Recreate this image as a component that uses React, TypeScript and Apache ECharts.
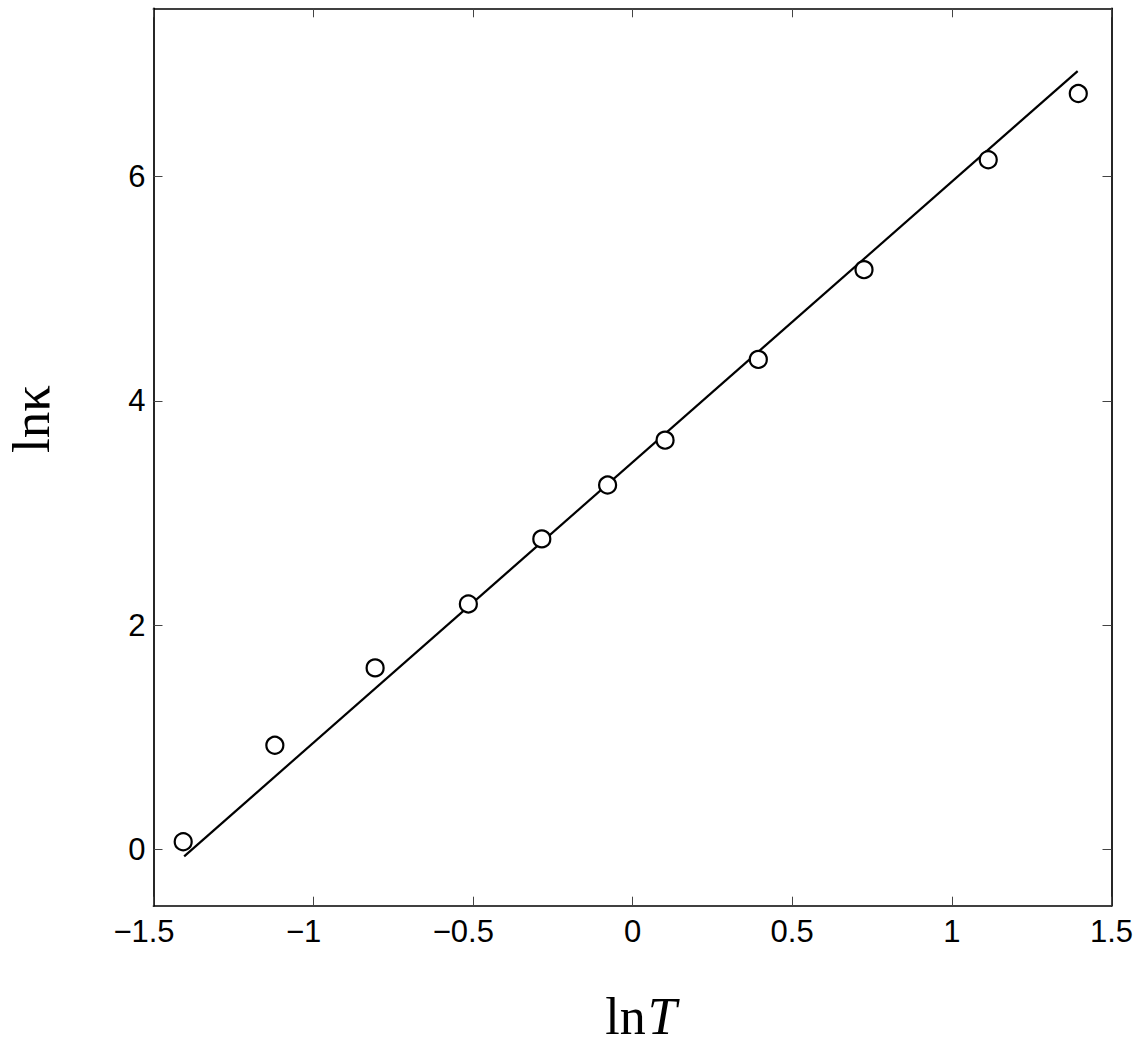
import React, { useEffect, useRef } from "react";
import * as echarts from "echarts";

const lnT = [-1.407, -1.12, -0.806, -0.514, -0.284, -0.078, 0.102, 0.394, 0.725, 1.114, 1.396];
const lnKappa = [0.07, 0.93, 1.62, 2.19, 2.77, 3.25, 3.65, 4.37, 5.17, 6.15, 6.74];
const fitX = [-1.404, 1.394];
const fitY = [-0.06, 6.94];
const xTicks = [-1.5, -1, -0.5, 0, 0.5, 1, 1.5];
const yTicks = [0, 2, 4, 6];

const fmtX = (v: number) => (v < 0 ? "{n|\u2212" + String(-v) + "}" : "{p|" + String(v) + "}");

export default function App() {
  const ref = useRef<HTMLDivElement>(null);
  useEffect(() => {
    const chart = echarts.init(ref.current!, null, { renderer: "svg" });
    const tickStyle = { lineStyle: { color: "#444", width: 1 } };
    const frame = { lineStyle: { color: "#000", width: 1.7 } };
    const sans = "Liberation Sans, Arial, sans-serif";
    const serif = "Liberation Serif, Times New Roman, serif";
    const labelFont = { fontFamily: sans, fontSize: 31, color: "#000" };
    chart.setOption({
      animation: false,
      backgroundColor: "#fff",
      grid: { left: 153.5, right: 31.5, top: 8.3, bottom: 140.3, show: false, outerBoundsMode: "none", containLabel: false },
      xAxis: [
        {
          type: "value",
          min: -1.5,
          max: 1.5,
          interval: 0.5,
          position: "bottom",
          axisLine: { show: true, onZero: false, ...frame },
          axisTick: { show: true, inside: true, length: 9, ...tickStyle },
          splitLine: { show: false },
          axisLabel: {
            margin: 10,
            formatter: (v: number) => (xTicks.includes(v) ? fmtX(v) : ""),
            rich: {
              n: { ...labelFont, padding: [0, 19, 0, 0] },
              p: { ...labelFont },
            },
          },
        },
        {
          type: "value",
          min: -1.5,
          max: 1.5,
          interval: 0.5,
          position: "top",
          axisLine: { show: true, onZero: false, ...frame },
          axisTick: { show: true, inside: true, length: 9, ...tickStyle },
          splitLine: { show: false },
          axisLabel: { show: false },
        },
      ],
      yAxis: [
        {
          type: "value",
          min: -0.5,
          max: 7.5,
          position: "left",
          axisLine: { show: true, onZero: false, ...frame },
          axisTick: { show: true, inside: true, length: 9, customValues: yTicks, ...tickStyle },
          splitLine: { show: false },
          axisLabel: {
            ...labelFont,
            margin: 8,
            customValues: yTicks,
            formatter: (v: number) => String(v),
          },
        },
        {
          type: "value",
          min: -0.5,
          max: 7.5,
          position: "right",
          axisLine: { show: true, onZero: false, ...frame },
          axisTick: { show: true, inside: true, length: 9, customValues: yTicks, ...tickStyle },
          splitLine: { show: false },
          axisLabel: { show: false },
        },
      ],
      graphic: [
        {
          type: "text",
          x: 641,
          y: 1016.5,
          style: {
            text: "{a|ln}{b|T}",
            align: "center",
            verticalAlign: "middle",
            rich: {
              a: { fontFamily: serif, fontSize: 52, lineHeight: 44, fill: "#000" },
              b: { fontFamily: serif, fontSize: 52, lineHeight: 44, fontStyle: "italic", fill: "#000", padding: [0, 0, 0, 2] },
            },
          },
        },
        {
          type: "text",
          x: 31,
          y: 419,
          rotation: Math.PI / 2,
          style: {
            text: "ln\u03BA",
            align: "center",
            verticalAlign: "middle",
            fontFamily: serif,
            fontSize: 53,
            lineHeight: 44,
            fill: "#000",
          },
        },
      ],
      series: [
        {
          type: "line",
          data: fitX.map((x, i) => [x, fitY[i]]),
          showSymbol: false,
          symbol: "none",
          lineStyle: { color: "#000", width: 2.2 },
          silent: true,
          z: 2,
        },
        {
          type: "scatter",
          data: lnT.map((x, i) => [x, lnKappa[i]]),
          symbol: "circle",
          symbolSize: 17,
          itemStyle: { color: "#fff", borderColor: "#000", borderWidth: 2.2, opacity: 1 },
          z: 3,
        },
      ],
    });
    return () => chart.dispose();
  }, []);
  return (
    <div
      ref={ref}
      style={{ position: "absolute", left: 0, top: 0, width: 1143, height: 1046, background: "#fff" }}
    />
  );
}
